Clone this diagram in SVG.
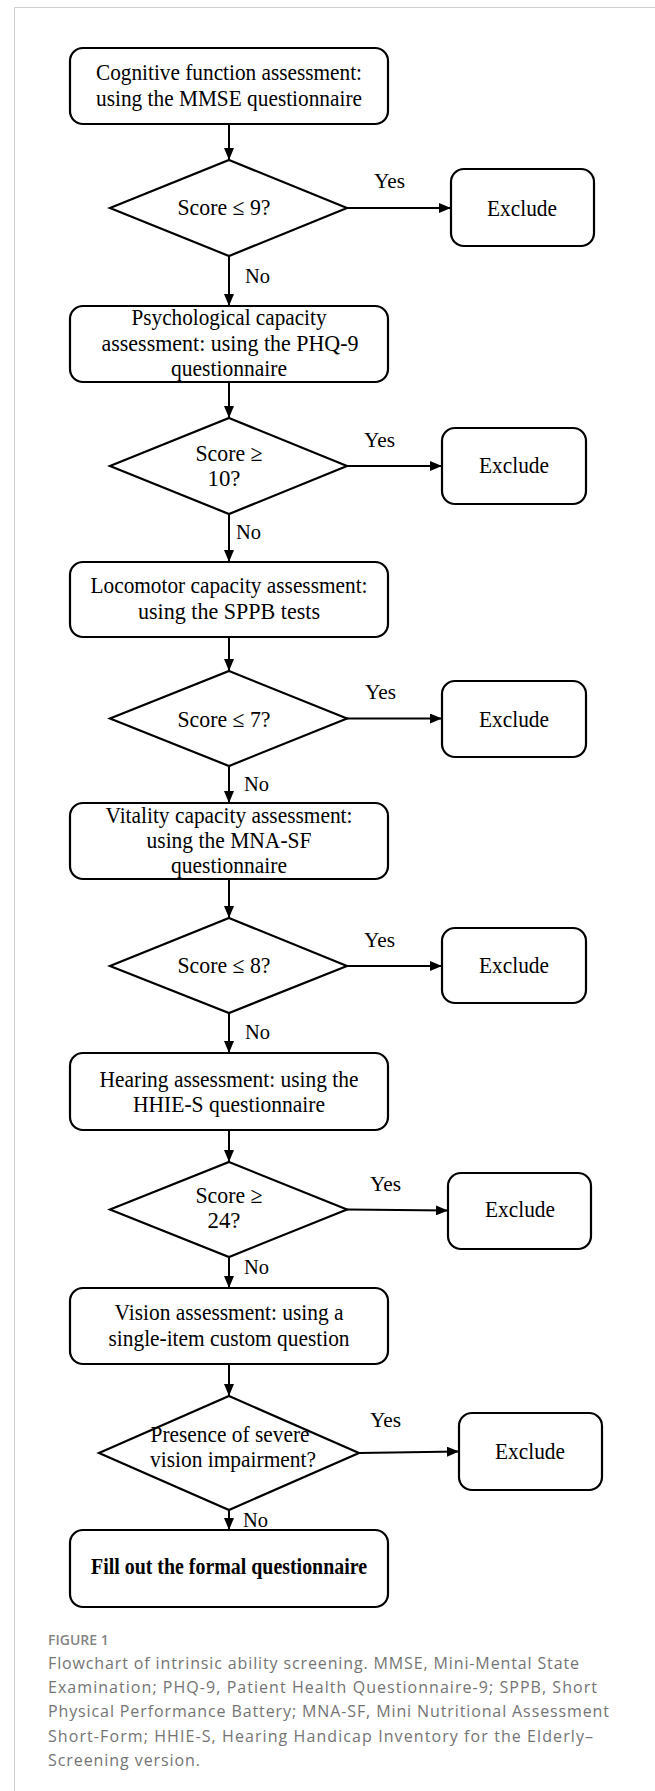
<svg xmlns="http://www.w3.org/2000/svg" width="655" height="1791" viewBox="0 0 655 1791">
<style>
.bx{fill:#fff;stroke:#000;stroke-width:2.2}
.t{font-family:"Liberation Serif","Times New Roman",serif;font-size:23px;fill:#000;text-anchor:middle}
.l{font-family:"Liberation Serif","Times New Roman",serif;font-size:22px;fill:#000}
.b{font-weight:bold}
.c{stroke:#000;stroke-width:2;fill:none;marker-end:url(#ah)}
.cap{font-family:"Open Sans","Noto Sans",sans-serif;font-size:16px;fill:#747474}
.fig{font-family:"Open Sans","Noto Sans",sans-serif;font-size:14px;font-weight:600;fill:#858585}
</style>
<defs>
<marker id="ah" viewBox="0 0 12 10" refX="12" refY="5" markerWidth="12" markerHeight="10" markerUnits="userSpaceOnUse" orient="auto">
<path d="M0,0 L12,5 L0,10 Z" fill="#000"/>
</marker>
</defs>
<rect width="655" height="1791" fill="#fff"/>
<path d="M14.5,1791 V7.5 H655" fill="none" stroke="#cfcfcf" stroke-width="1"/>

<g id="connectors">
<line class="c" x1="229" y1="124" x2="229" y2="160"/>
<line class="c" x1="347" y1="208" x2="451" y2="208"/>
<line class="c" x1="229" y1="256" x2="229" y2="306"/>
<line class="c" x1="229" y1="382" x2="229" y2="418"/>
<line class="c" x1="347" y1="466" x2="442" y2="466"/>
<line class="c" x1="229" y1="514" x2="229" y2="562"/>
<line class="c" x1="229" y1="637" x2="229" y2="671"/>
<line class="c" x1="347" y1="718.5" x2="442" y2="718.5"/>
<line class="c" x1="229" y1="766" x2="229" y2="803"/>
<line class="c" x1="229" y1="879" x2="229" y2="918"/>
<line class="c" x1="347" y1="966" x2="442" y2="966"/>
<line class="c" x1="229" y1="1013" x2="229" y2="1053"/>
<line class="c" x1="229" y1="1130" x2="229" y2="1162"/>
<line class="c" x1="347" y1="1209.5" x2="448" y2="1210.5"/>
<line class="c" x1="229" y1="1257" x2="229" y2="1288"/>
<line class="c" x1="229" y1="1364" x2="229" y2="1396"/>
<line class="c" x1="359" y1="1453" x2="459" y2="1451.5"/>
<line class="c" x1="229" y1="1510" x2="229" y2="1530"/>
<text class="l" x="374" y="188" textLength="31" lengthAdjust="spacingAndGlyphs">Yes</text>
<text class="l" x="245" y="283" textLength="25" lengthAdjust="spacingAndGlyphs">No</text>
<text class="l" x="364" y="447" textLength="31" lengthAdjust="spacingAndGlyphs">Yes</text>
<text class="l" x="236" y="539" textLength="25" lengthAdjust="spacingAndGlyphs">No</text>
<text class="l" x="365" y="699" textLength="31" lengthAdjust="spacingAndGlyphs">Yes</text>
<text class="l" x="244" y="791" textLength="25" lengthAdjust="spacingAndGlyphs">No</text>
<text class="l" x="364" y="947" textLength="31" lengthAdjust="spacingAndGlyphs">Yes</text>
<text class="l" x="245" y="1039" textLength="25" lengthAdjust="spacingAndGlyphs">No</text>
<text class="l" x="370" y="1191" textLength="31" lengthAdjust="spacingAndGlyphs">Yes</text>
<text class="l" x="244" y="1274" textLength="25" lengthAdjust="spacingAndGlyphs">No</text>
<text class="l" x="370" y="1427" textLength="31" lengthAdjust="spacingAndGlyphs">Yes</text>
<text class="l" x="243" y="1527" textLength="25" lengthAdjust="spacingAndGlyphs">No</text>
</g>

<g id="n1"><rect class="bx" x="70" y="48" width="318" height="76" rx="13"/>
<text class="t" x="229" y="80" textLength="266" lengthAdjust="spacingAndGlyphs">Cognitive function assessment:</text>
<text class="t" x="229" y="106" textLength="266" lengthAdjust="spacingAndGlyphs">using the MMSE questionnaire</text></g>
<g id="d1"><path class="bx" d="M229,160 L347,208 L229,256 L110,208 Z"/>
<text class="t" x="224" y="215" textLength="93" lengthAdjust="spacingAndGlyphs">Score ≤ 9?</text></g>
<g id="e1"><rect class="bx" x="451" y="169" width="143" height="77" rx="13"/>
<text class="t" x="522" y="216" textLength="70" lengthAdjust="spacingAndGlyphs">Exclude</text></g>

<g id="n2"><rect class="bx" x="70" y="306" width="318" height="76" rx="13"/>
<text class="t" x="229" y="325" textLength="195" lengthAdjust="spacingAndGlyphs">Psychological capacity</text>
<text class="t" x="230" y="351" textLength="257" lengthAdjust="spacingAndGlyphs">assessment: using the  PHQ-9</text>
<text class="t" x="229" y="376" textLength="116" lengthAdjust="spacingAndGlyphs">questionnaire</text></g>
<g id="d2"><path class="bx" d="M229,418 L347,466 L229,514 L110,466 Z"/>
<text class="t" x="229" y="461" textLength="67" lengthAdjust="spacingAndGlyphs">Score ≥</text>
<text class="t" x="224" y="486" textLength="33" lengthAdjust="spacingAndGlyphs">10?</text></g>
<g id="e2"><rect class="bx" x="442" y="428" width="144" height="76" rx="13"/>
<text class="t" x="514" y="473" textLength="70" lengthAdjust="spacingAndGlyphs">Exclude</text></g>

<g id="n3"><rect class="bx" x="70" y="562" width="318" height="75" rx="13"/>
<text class="t" x="229" y="593" textLength="277" lengthAdjust="spacingAndGlyphs">Locomotor capacity assessment:</text>
<text class="t" x="229" y="619" textLength="182" lengthAdjust="spacingAndGlyphs">using the SPPB tests</text></g>
<g id="d3"><path class="bx" d="M229,671 L347,718.5 L229,766 L110,718.5 Z"/>
<text class="t" x="224" y="727" textLength="93" lengthAdjust="spacingAndGlyphs">Score ≤ 7?</text></g>
<g id="e3"><rect class="bx" x="442" y="681" width="144" height="76" rx="13"/>
<text class="t" x="514" y="727" textLength="70" lengthAdjust="spacingAndGlyphs">Exclude</text></g>

<g id="n4"><rect class="bx" x="70" y="803" width="318" height="76" rx="13"/>
<text class="t" x="229" y="823" textLength="247" lengthAdjust="spacingAndGlyphs">Vitality capacity assessment:</text>
<text class="t" x="229" y="848" textLength="165" lengthAdjust="spacingAndGlyphs">using the MNA-SF</text>
<text class="t" x="229" y="873" textLength="116" lengthAdjust="spacingAndGlyphs">questionnaire</text></g>
<g id="d4"><path class="bx" d="M229,918 L347,966 L229,1013 L110,966 Z"/>
<text class="t" x="224" y="973" textLength="93" lengthAdjust="spacingAndGlyphs">Score ≤ 8?</text></g>
<g id="e4"><rect class="bx" x="442" y="928" width="144" height="75" rx="13"/>
<text class="t" x="514" y="973" textLength="70" lengthAdjust="spacingAndGlyphs">Exclude</text></g>

<g id="n5"><rect class="bx" x="70" y="1053" width="318" height="77" rx="13"/>
<text class="t" x="229" y="1087" textLength="259" lengthAdjust="spacingAndGlyphs">Hearing assessment: using the</text>
<text class="t" x="229" y="1112" textLength="192" lengthAdjust="spacingAndGlyphs">HHIE-S questionnaire</text></g>
<g id="d5"><path class="bx" d="M229,1162 L347,1209.5 L229,1257 L110,1209.5 Z"/>
<text class="t" x="229" y="1203" textLength="67" lengthAdjust="spacingAndGlyphs">Score ≥</text>
<text class="t" x="224" y="1228" textLength="33" lengthAdjust="spacingAndGlyphs">24?</text></g>
<g id="e5"><rect class="bx" x="448" y="1173" width="143" height="76" rx="13"/>
<text class="t" x="520" y="1217" textLength="70" lengthAdjust="spacingAndGlyphs">Exclude</text></g>

<g id="n6"><rect class="bx" x="70" y="1288" width="318" height="76" rx="13"/>
<text class="t" x="229" y="1320" textLength="229" lengthAdjust="spacingAndGlyphs">Vision assessment: using a</text>
<text class="t" x="229" y="1346" textLength="241" lengthAdjust="spacingAndGlyphs">single-item custom question</text></g>
<g id="d6"><path class="bx" d="M229,1396 L359,1453 L229,1510 L99,1453 Z"/>
<text class="t" x="230" y="1442" textLength="159" lengthAdjust="spacingAndGlyphs">Presence of severe</text>
<text class="t" x="233" y="1467" textLength="166" lengthAdjust="spacingAndGlyphs">vision impairment?</text></g>
<g id="e6"><rect class="bx" x="459" y="1413" width="143" height="77" rx="13"/>
<text class="t" x="530" y="1459" textLength="70" lengthAdjust="spacingAndGlyphs">Exclude</text></g>

<g id="n7"><rect class="bx" x="70" y="1530" width="318" height="77" rx="13"/>
<text class="t b" x="229" y="1574" textLength="276" lengthAdjust="spacingAndGlyphs">Fill out the formal questionnaire</text></g>

<g id="caption">
<text class="fig" x="48" y="1645">FIGURE 1</text>
<text class="cap" x="48" y="1669" textLength="531">Flowchart of intrinsic ability screening. MMSE, Mini-Mental State</text>
<text class="cap" x="48" y="1693" textLength="549">Examination; PHQ-9, Patient Health Questionnaire-9; SPPB, Short</text>
<text class="cap" x="48" y="1717" textLength="561">Physical Performance Battery; MNA-SF, Mini Nutritional Assessment</text>
<text class="cap" x="48" y="1741.5" textLength="545">Short-Form; HHIE-S, Hearing Handicap Inventory for the Elderly–</text>
<text class="cap" x="48" y="1765.5" textLength="152">Screening version.</text>
</g>
</svg>
